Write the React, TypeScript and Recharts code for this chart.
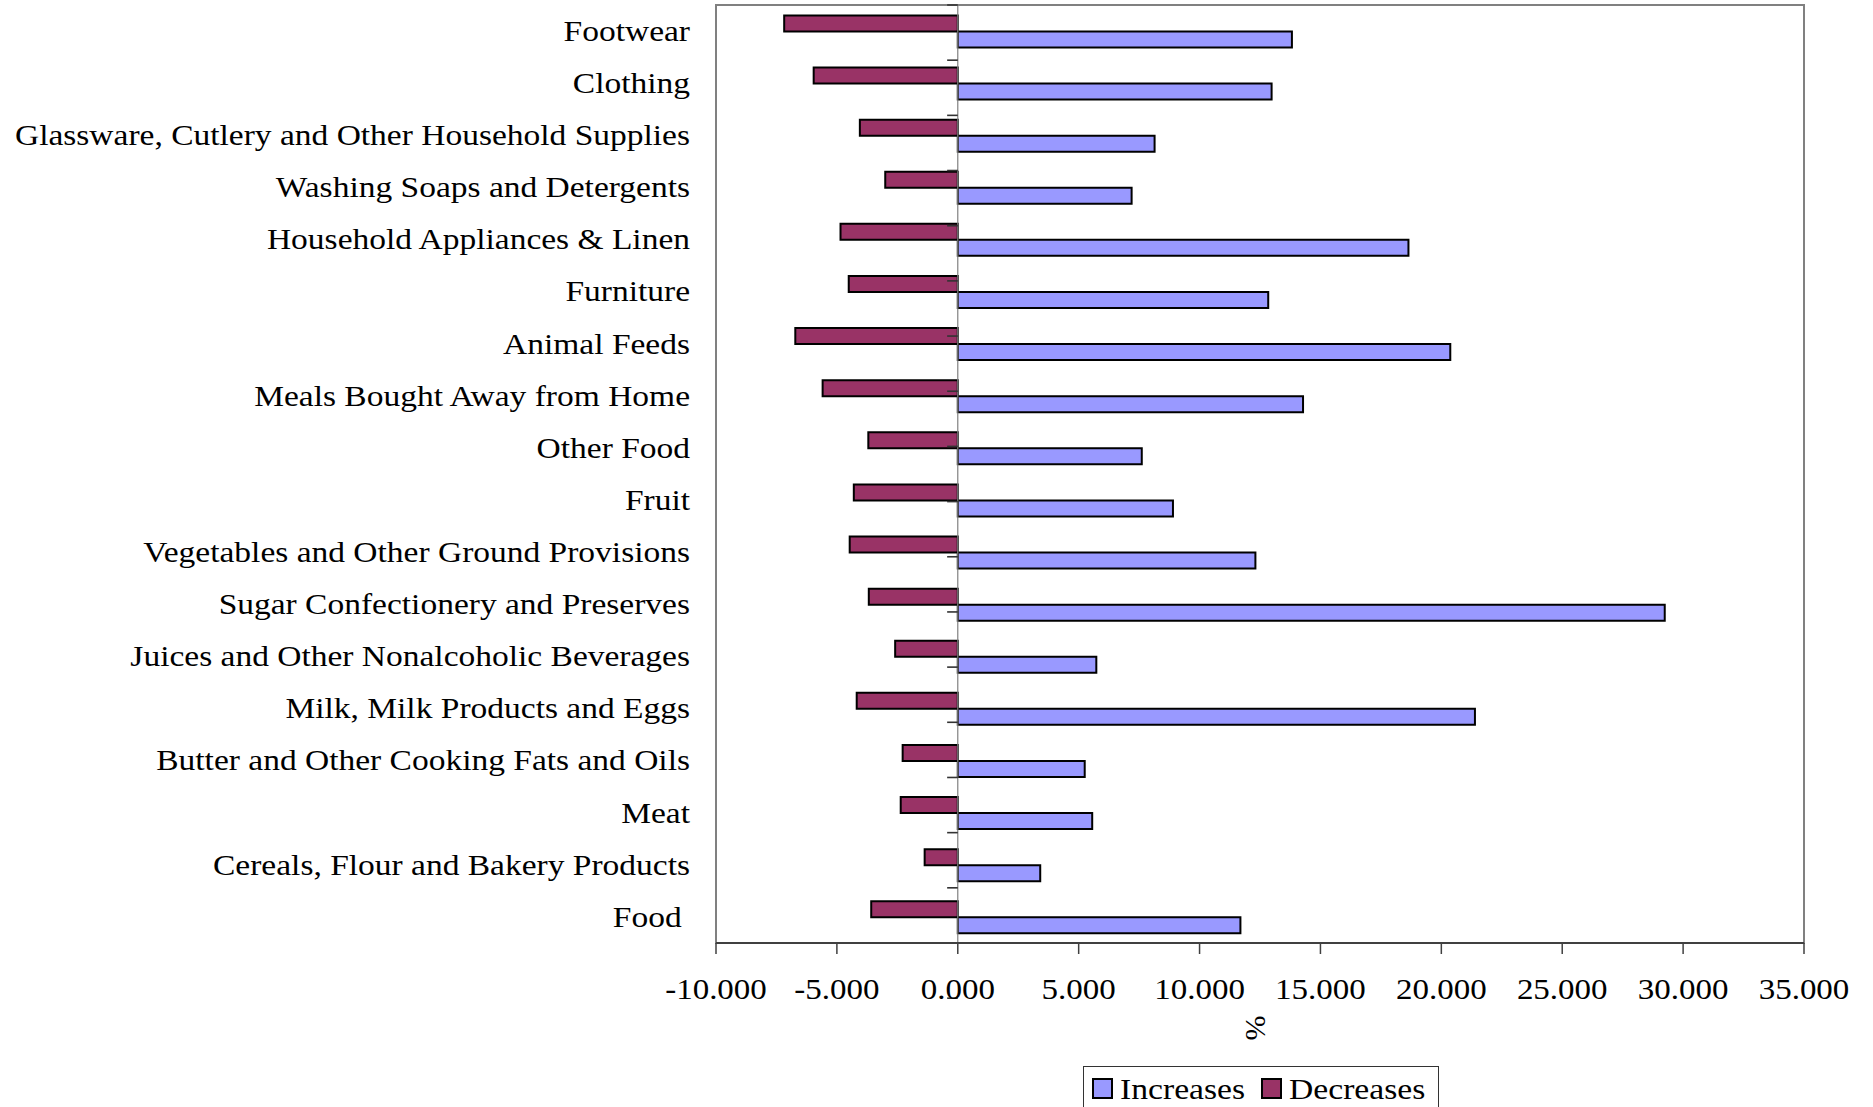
import { BarChart, Bar, XAxis, YAxis, ReferenceLine, ReferenceArea, Legend } from "recharts";

const categories = [
  "Footwear",
  "Clothing",
  "Glassware, Cutlery and Other Household Supplies",
  "Washing Soaps and Detergents",
  "Household Appliances & Linen",
  "Furniture",
  "Animal Feeds",
  "Meals Bought Away from Home",
  "Other Food",
  "Fruit",
  "Vegetables and Other Ground Provisions",
  "Sugar Confectionery and Preserves",
  "Juices and Other Nonalcoholic Beverages",
  "Milk, Milk Products and Eggs",
  "Butter and Other Cooking Fats and Oils",
  "Meat",
  "Cereals, Flour and Bakery Products",
  "Food ",
];

const increases = [
  13.82, 12.98, 8.14, 7.19, 18.64, 12.84, 20.37, 14.28, 7.61, 8.9, 12.31, 29.24,
  5.73, 21.39, 5.25, 5.56, 3.41, 11.69,
];

const decreases = [
  -7.18, -5.96, -4.05, -3.0, -4.85, -4.51, -6.72, -5.59, -3.7, -4.3, -4.47,
  -3.68, -2.59, -4.18, -2.28, -2.36, -1.37, -3.58,
];

const xTicks = [-10, -5, 0, 5, 10, 15, 20, 25, 30, 35];

const INC = "#9999ff";
const DEC = "#993366";
const SERIF = "'Liberation Serif', 'Times New Roman', serif";

const rows = categories.map((name, i) => ({
  name,
  increases: increases[i],
  decreases: decreases[i],
}));

// boundaries between category rows, for the small ticks on the zero line
const rowEdges = categories.map((_, i) => i).concat(categories.length);

const legendItems = [
  { label: "Increases", color: INC, left: 9 },
  { label: "Decreases", color: DEC, left: 178 },
];

function CategoryTick({ x, y, payload }: any) {
  return (
    <g transform={`translate(${x},${y}) scale(1.155,1)`}>
      <text
        textAnchor="end"
        dy="0.34em"
        fontFamily={SERIF}
        fontSize={29}
        fill="#000"
        style={{ whiteSpace: "pre" }}
      >
        {payload.value}
      </text>
    </g>
  );
}

function ValueTick({ x, y, payload }: any) {
  return (
    <g transform={`translate(${x},${y}) scale(1.1,1)`}>
      <text textAnchor="middle" dy="0.36em" fontFamily={SERIF} fontSize={30} fill="#000">
        {payload.value.toFixed(3)}
      </text>
    </g>
  );
}

function PercentTitle(props: any) {
  const { viewBox } = props;
  const cx = viewBox.x + viewBox.width / 2 - 4;
  const cy = viewBox.y + 85;
  return (
    <text
      transform={`translate(${cx},${cy}) rotate(90)`}
      textAnchor="middle"
      dominantBaseline="central"
      fontFamily={SERIF}
      fontSize={30}
      fill="#000"
    >
      %
    </text>
  );
}

function LegendBox() {
  return (
    <div
      style={{
        width: 356,
        height: 41,
        boxSizing: "border-box",
        border: "1.5px solid #333",
        borderBottom: "none",
        background: "#fff",
      }}
    >
      <svg width={353} height={41} style={{ display: "block" }}>
        {legendItems.map((item) => (
          <g key={item.label}>
            <rect
              x={item.left}
              y={12}
              width={19}
              height={19}
              fill={item.color}
              stroke="#000"
              strokeWidth={2}
            />
            <g transform={`translate(${item.left + 27},32) scale(1.14,1)`}>
              <text fontFamily={SERIF} fontSize={29.5} fill="#000">
                {item.label}
              </text>
            </g>
          </g>
        ))}
      </svg>
    </div>
  );
}

export default function App() {
  return (
    <div style={{ position: "absolute", left: 0, top: 0, background: "#fff" }}>
      <BarChart
        layout="vertical"
        width={1873}
        height={1107}
        data={rows}
        margin={{ top: 5, right: 69, bottom: 64, left: 0 }}
        barCategoryGap="20%"
        barGap={0}
      >
        <XAxis
          type="number"
          domain={[-10, 35]}
          ticks={xTicks}
          interval={0}
          height={100}
          tickSize={11}
          tickMargin={34}
          tick={<ValueTick />}
          tickLine={{ stroke: "#404040", strokeWidth: 1.5 }}
          axisLine={{ stroke: "#404040", strokeWidth: 2 }}
          label={<PercentTitle />}
        />
        <YAxis
          type="category"
          dataKey="name"
          width={716}
          tickLine={false}
          axisLine={false}
          tickSize={0}
          tickMargin={26}
          interval={0}
          tick={<CategoryTick />}
        />
        <YAxis
          yAxisId="edges"
          type="number"
          domain={[0, categories.length]}
          allowDataOverflow
          hide
        />
        <ReferenceArea
          x1={-10}
          x2={35}
          fill="none"
          stroke="#808080"
          strokeWidth={2}
          ifOverflow="visible"
        />
        <ReferenceLine x={0} stroke="#808080" strokeWidth={1.2} />
        {rowEdges.map((k) => (
          <ReferenceLine
            key={k}
            yAxisId="edges"
            segment={[
              { x: -0.44, y: k },
              { x: 0, y: k },
            ]}
            stroke="#333"
            strokeWidth={1.6}
            ifOverflow="visible"
          />
        ))}
        <Bar
          dataKey="decreases"
          name="Decreases"
          fill={DEC}
          stroke="#000"
          strokeWidth={2}
          isAnimationActive={false}
        />
        <Bar
          dataKey="increases"
          name="Increases"
          fill={INC}
          stroke="#000"
          strokeWidth={2}
          isAnimationActive={false}
        />
        <Legend
          layout="horizontal"
          verticalAlign="middle"
          align="center"
          wrapperStyle={{ left: 1083, top: 1066, width: 356, height: 41 }}
          content={<LegendBox />}
        />
      </BarChart>
    </div>
  );
}
